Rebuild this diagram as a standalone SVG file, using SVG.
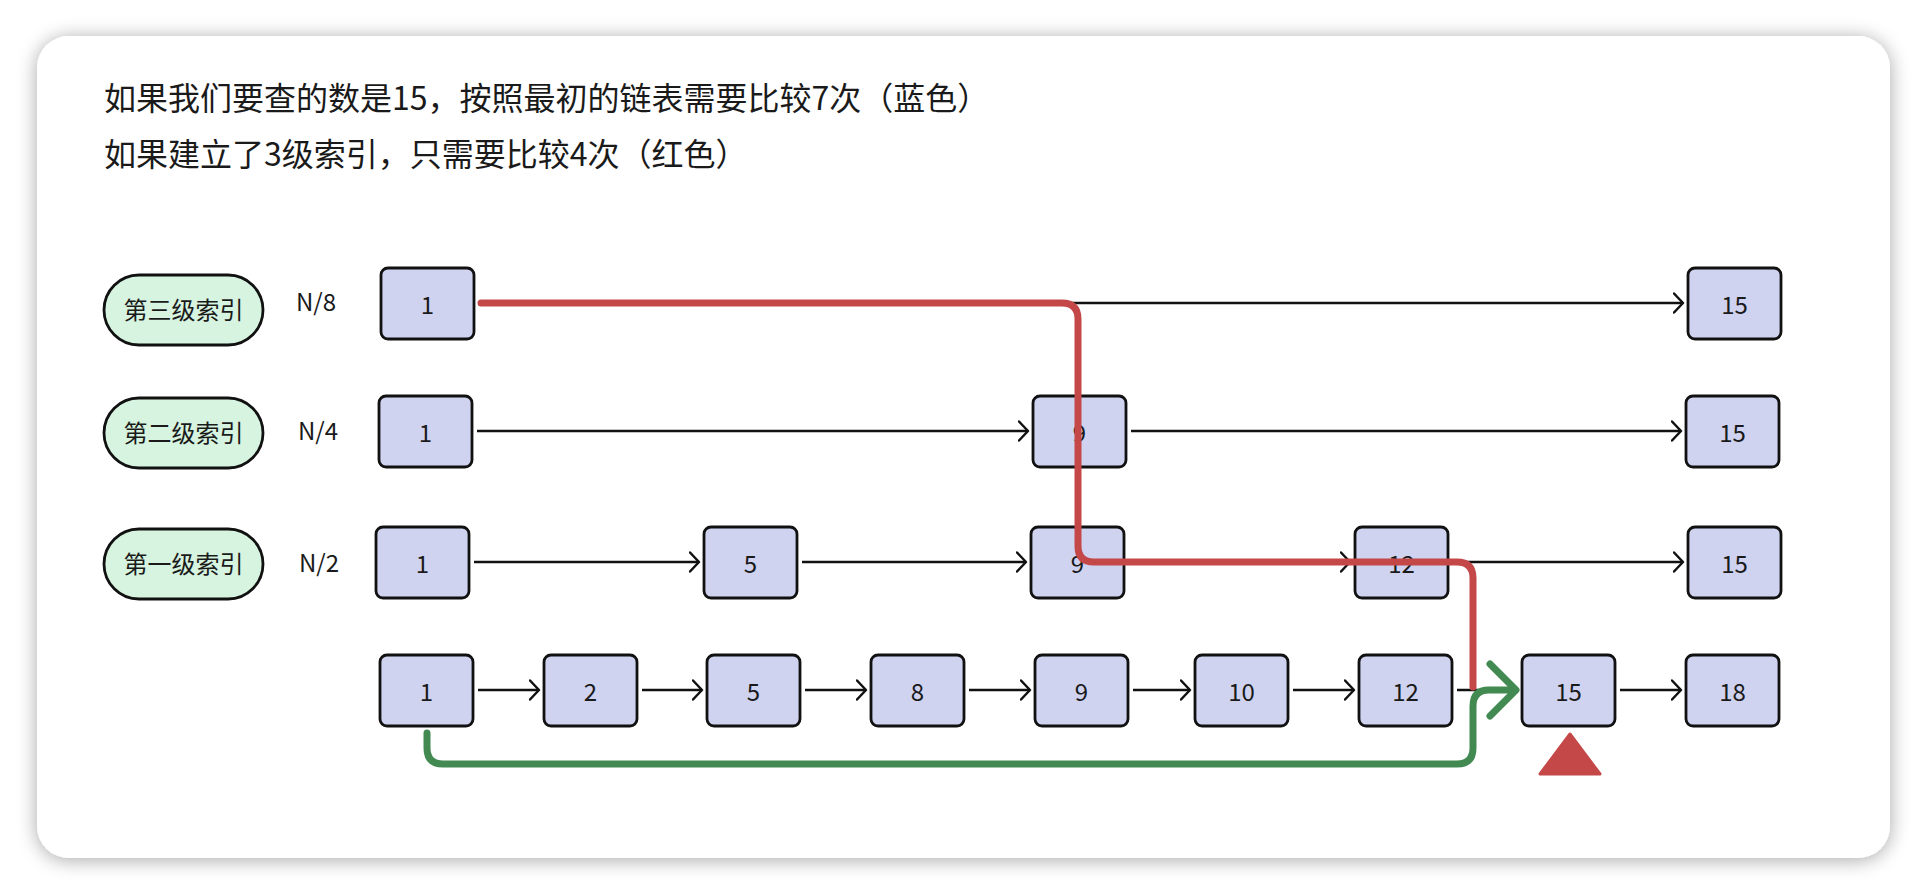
<svg xmlns="http://www.w3.org/2000/svg" width="1926" height="894" viewBox="0 0 1926 894">
  <defs>
    <filter id="shadow" x="-5%" y="-10%" width="110%" height="120%">
      <feGaussianBlur in="SourceAlpha" stdDeviation="10"/>
      <feOffset dx="0" dy="2" result="b"/>
      <feComponentTransfer><feFuncA type="linear" slope="0.35"/></feComponentTransfer>
      <feMerge><feMergeNode/><feMergeNode in="SourceGraphic"/></feMerge>
    </filter>
    <marker id="chev" viewBox="0 0 12 22" refX="10.5" refY="11" markerWidth="12" markerHeight="22" markerUnits="userSpaceOnUse" orient="auto">
      <path d="M1.5,1.5 L10.5,11 L1.5,20.5" fill="none" stroke="#111" stroke-width="2.5" stroke-linecap="round" stroke-linejoin="round"/>
    </marker>
    <style>
      text { font-family: "Noto Sans CJK SC", "Noto Sans", sans-serif; fill: #1a1a1a; }
      .title { font-size: 32px; }
      .box rect { fill: #cfd3f0; stroke: #111; stroke-width: 2.8; }
      .box text { font-size: 24px; text-anchor: middle; }
      .pill rect { fill: #d6f4df; stroke: #111; stroke-width: 2.8; }
      .pill text { font-size: 24px; text-anchor: middle; }
      .lbl { font-size: 24px; text-anchor: middle; }
      .arr { stroke: #111; stroke-width: 2.5; fill: none; marker-end: url(#chev); }
      .red { stroke: #c44848; stroke-width: 7; fill: none; stroke-linecap: round; stroke-linejoin: round; }
      .green { stroke: #428a52; stroke-width: 7; fill: none; stroke-linecap: round; stroke-linejoin: round; }
    </style>
  </defs>

  <rect width="1926" height="894" fill="#ffffff"/>
  <rect x="37" y="36" width="1853" height="822" rx="32" ry="32" fill="#ffffff" filter="url(#shadow)"/>

  <text class="title" x="104" y="110">如果我们要查的数是15，按照最初的链表需要比较7次（蓝色）</text>
  <text class="title" x="104" y="166">如果建立了3级索引，只需要比较4次（红色）</text>

  <g id="pill-l3" class="pill"><rect x="104" y="275" width="159" height="70" rx="35"/><text x="183.5" y="319">第三级索引</text></g>
  <g id="pill-l2" class="pill"><rect x="104" y="398" width="159" height="70" rx="35"/><text x="183.5" y="442">第二级索引</text></g>
  <g id="pill-l1" class="pill"><rect x="104" y="529" width="159" height="70" rx="35"/><text x="183.5" y="573">第一级索引</text></g>

  <text class="lbl" x="316" y="311">N/8</text>
  <text class="lbl" x="318" y="440">N/4</text>
  <text class="lbl" x="319" y="572">N/2</text>

  <!-- row 1 -->
  <g id="r1-1" class="box"><rect x="381" y="268" width="93" height="71" rx="7"/><text x="427.5" y="314">1</text></g>
  <g id="r1-15" class="box"><rect x="1688" y="268" width="93" height="71" rx="7"/><text x="1734.5" y="314">15</text></g>
  <!-- row 2 -->
  <g id="r2-1" class="box"><rect x="379" y="396" width="93" height="71" rx="7"/><text x="425.5" y="442">1</text></g>
  <g id="r2-9" class="box"><rect x="1033" y="396" width="93" height="71" rx="7"/><text x="1079.5" y="442">9</text></g>
  <g id="r2-15" class="box"><rect x="1686" y="396" width="93" height="71" rx="7"/><text x="1732.5" y="442">15</text></g>
  <!-- row 3 -->
  <g id="r3-1" class="box"><rect x="376" y="527" width="93" height="71" rx="7"/><text x="422.5" y="573">1</text></g>
  <g id="r3-5" class="box"><rect x="704" y="527" width="93" height="71" rx="7"/><text x="750.5" y="573">5</text></g>
  <g id="r3-9" class="box"><rect x="1031" y="527" width="93" height="71" rx="7"/><text x="1077.5" y="573">9</text></g>
  <g id="r3-12" class="box"><rect x="1355" y="527" width="93" height="71" rx="7"/><text x="1401.5" y="573">12</text></g>
  <g id="r3-15" class="box"><rect x="1688" y="527" width="93" height="71" rx="7"/><text x="1734.5" y="573">15</text></g>
  <!-- row 4 -->
  <g id="r4-1" class="box"><rect x="380" y="655" width="93" height="71" rx="7"/><text x="426.5" y="701">1</text></g>
  <g id="r4-2" class="box"><rect x="544" y="655" width="93" height="71" rx="7"/><text x="590.5" y="701">2</text></g>
  <g id="r4-5" class="box"><rect x="707" y="655" width="93" height="71" rx="7"/><text x="753.5" y="701">5</text></g>
  <g id="r4-8" class="box"><rect x="871" y="655" width="93" height="71" rx="7"/><text x="917.5" y="701">8</text></g>
  <g id="r4-9" class="box"><rect x="1035" y="655" width="93" height="71" rx="7"/><text x="1081.5" y="701">9</text></g>
  <g id="r4-10" class="box"><rect x="1195" y="655" width="93" height="71" rx="7"/><text x="1241.5" y="701">10</text></g>
  <g id="r4-12" class="box"><rect x="1359" y="655" width="93" height="71" rx="7"/><text x="1405.5" y="701">12</text></g>
  <g id="r4-15" class="box"><rect x="1522" y="655" width="93" height="71" rx="7"/><text x="1568.5" y="701">15</text></g>
  <g id="r4-18" class="box"><rect x="1686" y="655" width="93" height="71" rx="7"/><text x="1732.5" y="701">18</text></g>

  <g id="connectors">
    <line class="arr" x1="479" y1="303" x2="1683" y2="303"/>
    <line class="arr" x1="477" y1="431" x2="1028" y2="431"/>
    <line class="arr" x1="1131" y1="431" x2="1681" y2="431"/>
    <line class="arr" x1="474" y1="562" x2="699" y2="562"/>
    <line class="arr" x1="802" y1="562" x2="1026" y2="562"/>
    <line class="arr" x1="1129" y1="562" x2="1350" y2="562"/>
    <line class="arr" x1="1453" y1="562" x2="1683" y2="562"/>
    <line class="arr" x1="478" y1="690" x2="539" y2="690"/>
    <line class="arr" x1="642" y1="690" x2="702" y2="690"/>
    <line class="arr" x1="805" y1="690" x2="866" y2="690"/>
    <line class="arr" x1="969" y1="690" x2="1030" y2="690"/>
    <line class="arr" x1="1133" y1="690" x2="1190" y2="690"/>
    <line class="arr" x1="1293" y1="690" x2="1354" y2="690"/>
    <line class="arr" x1="1457" y1="690" x2="1517" y2="690"/>
    <line class="arr" x1="1620" y1="690" x2="1681" y2="690"/>
    <path class="red" d="M481,303 H1062 Q1078,303 1078,319 V546 Q1078,562 1094,562 H1457 Q1473,562 1473,578 V687"/>
    <path class="green" d="M427,733 V748 Q427,764 443,764 H1457 Q1473,764 1473,748 V706 Q1473,690 1489,690 H1514"/>
    <polyline class="green" points="1490,664 1516,690 1490,716"/>
    <path d="M1570,734 L1600,774 L1540,774 Z" fill="#c44848" stroke="#c44848" stroke-width="3" stroke-linejoin="round"/>
  </g>
</svg>
